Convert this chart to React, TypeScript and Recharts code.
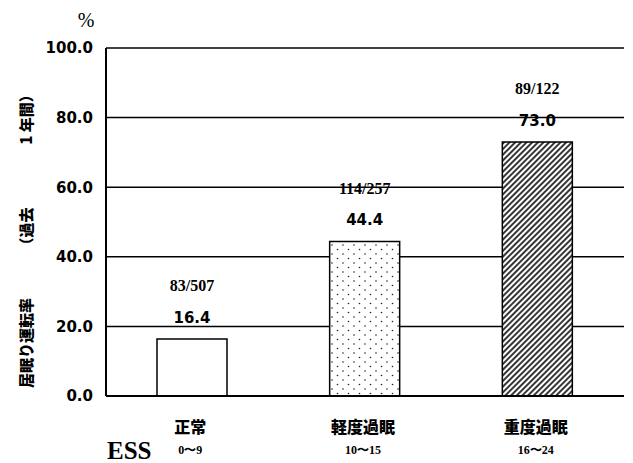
import React from 'react';
import { BarChart, Bar, XAxis, YAxis, CartesianGrid, Cell, LabelList, Label } from 'recharts';

const categories = ['正常', '軽度過眠', '重度過眠'];
const ranges = ['0〜9', '10〜15', '16〜24'];
const rates = [16.4, 44.4, 73.0];
const fractions = ['83/507', '114/257', '89/122'];
const yTicks = [0, 20, 40, 60, 80, 100];
const fills = ['#ffffff', 'url(#dots)', 'url(#hatch)'];

const data = categories.map((c, i) => ({ name: c, range: ranges[i], rate: rates[i], frac: fractions[i] }));

const CJK = '"Noto Sans CJK JP", "Noto Sans", sans-serif';
const SERIF = '"Liberation Serif", "DejaVu Serif", serif';
const SANS = '"DejaVu Sans", "Liberation Sans", Arial, sans-serif';

const XTick = (props: any) => {
  const { x, y, payload, index } = props;
  return (
    <g>
      <text x={x - 2} y={y + 37} textAnchor="middle" fontFamily={CJK} fontWeight={900} fontSize={16} fill="#000">
        {payload.value}
      </text>
      <text x={x - 2} y={y + 58} textAnchor="middle" fontFamily={SERIF} fontWeight={700} fontSize={12} fill="#000">
        {ranges[index]}
      </text>
    </g>
  );
};

const BarLabels = (props: any) => {
  const { x, y, width, index, value } = props;
  const cx = x + width / 2;
  return (
    <g>
      <text x={cx} y={y - 53} textAnchor="middle" dominantBaseline="central" fontFamily={SERIF} fontWeight={700} fontSize={16} fill="#000">
        {fractions[index]}
      </text>
      <text x={cx} y={y - 21} textAnchor="middle" dominantBaseline="central" fontFamily={SANS} fontWeight={700} fontSize={15} fill="#000">
        {Number(value).toFixed(1)}
      </text>
    </g>
  );
};

const YLabel = (props: any) => {
  const cx = 25;
  const parts: [string, number][] = [
    ['居眠り運転率', 343],
    ['（過去', 230],
    ['1 年間）', 116],
  ];
  return (
    <g>
      {parts.map(([t, cy], i) => (
        <text key={i} x={cx} y={cy} transform={`rotate(-90 ${cx} ${cy})`} textAnchor="middle" dominantBaseline="central" fontFamily={CJK} fontWeight={900} fontSize={15} fill="#000">
          {t}
        </text>
      ))}
      <text x={86} y={27} textAnchor="middle" fontFamily={SERIF} fontSize={20} fill="#000">%</text>
    </g>
  );
};

const EssLabel = (props: any) => {
  return (
    <text x={107} y={459} fontFamily={SERIF} fontWeight={700} fontSize={25} fill="#000">ESS</text>
  );
};

export default function App() {
  return (
    <div style={{ position: 'absolute', left: 0, top: 0, width: 633, height: 463, background: '#fff' }}>
      <BarChart width={633} height={463} data={data} margin={{ top: 48, right: 9, bottom: 7, left: 46 }}>
        <defs>
          <pattern id="dots" patternUnits="userSpaceOnUse" width="11" height="9">
            <rect width="11" height="9" fill="#fff" />
            <circle cx="2" cy="2" r="0.8" fill="#222" />
            <circle cx="7.5" cy="6.5" r="0.8" fill="#222" />
          </pattern>
          <pattern id="hatch" patternUnits="userSpaceOnUse" width="4" height="4" patternTransform="rotate(45)">
            <rect width="4" height="4" fill="#fff" />
            <line x1="1" y1="0" x2="1" y2="4" stroke="#111" strokeWidth="1.7" />
          </pattern>
        </defs>
        <CartesianGrid vertical={false} stroke="#000" strokeWidth={1.5} />
        <XAxis
          dataKey="name"
          height={60}
          tickLine={false}
          tickSize={0}
          tickMargin={0}
          axisLine={{ stroke: '#000', strokeWidth: 2 }}
          tick={<XTick />}
          interval={0}
        >
          <Label content={<EssLabel />} />
        </XAxis>
        <YAxis
          width={60}
          domain={[0, 100]}
          ticks={yTicks}
          tickFormatter={(v: number) => v.toFixed(1)}
          tickLine={false}
          tickSize={0}
          tickMargin={13}
          axisLine={{ stroke: '#000', strokeWidth: 2 }}
          tick={{ fill: '#000', fontFamily: SANS, fontWeight: 700, fontSize: 15 }}
        >
          <Label content={<YLabel />} />
        </YAxis>
        <YAxis yAxisId="r" orientation="right" width={0} tick={false} tickLine={false} axisLine={{ stroke: '#000', strokeWidth: 1.5 }} />
        <Bar dataKey="rate" barSize={70} stroke="#000" strokeWidth={1.5} isAnimationActive={false}>
          {data.map((d, i) => (
            <Cell key={i} fill={fills[i]} />
          ))}
          <LabelList dataKey="rate" content={<BarLabels />} />
        </Bar>
      </BarChart>
    </div>
  );
}
